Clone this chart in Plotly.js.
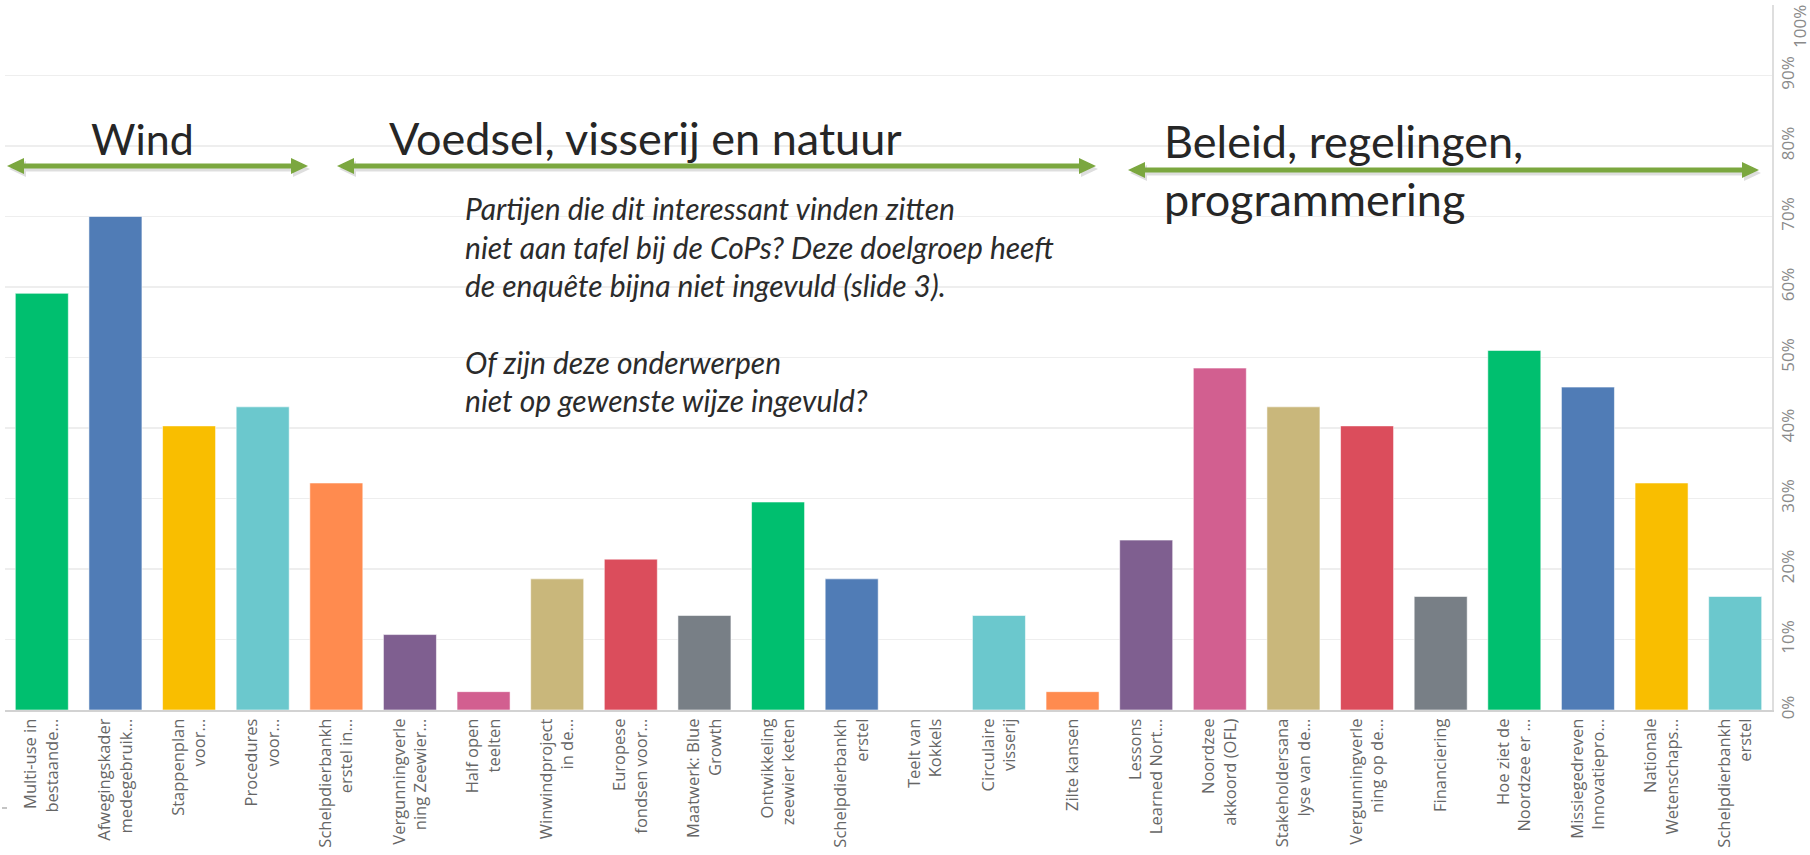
<!DOCTYPE html>
<html>
<head>
<meta charset="utf-8">
<script src="https://cdn.plot.ly/plotly-3.0.1.min.js"></script>
<style>html,body{margin:0;padding:0;background:#fff;}#chart{width:1810px;height:855px;}</style>
</head>
<body>
<div id="chart"></div>
<script>
// ---- data ----
const categories = [
  "Multi-use in<br>bestaande...",
  "Afwegingskader<br>medegebruik...",
  "Stappenplan<br>voor...",
  "Procedures<br>voor...",
  "Schelpdierbankh<br>erstel in...",
  "Vergunningverle<br>ning Zeewier...",
  "Half open<br>teelten",
  "Winwindproject<br>in de...",
  "Europese<br>fondsen voor...",
  "Maatwerk: Blue<br>Growth",
  "Ontwikkeling<br>zeewier keten",
  "Schelpdierbankh<br>erstel",
  "Teelt van<br>Kokkels",
  "Circulaire<br>visserij",
  "Zilte kansen",
  "Lessons<br>Learned Nort...",
  "Noordzee<br>akkoord (OFL)",
  "Stakeholdersana<br>lyse van de...",
  "Vergunningverle<br>ning op de...",
  "Financiering",
  "Hoe ziet de<br>Noordzee er ...",
  "Missiegedreven<br>Innovatiepro...",
  "Nationale<br>Wetenschaps...",
  "Schelpdierbankh<br>erstel"
];
const percentages = [59.1, 70.0, 40.3, 43.0, 32.2, 10.7, 2.6, 18.6, 21.4, 13.4, 29.5, 18.6,
                     0, 13.4, 2.6, 24.1, 48.5, 43.0, 40.3, 16.1, 51.0, 45.8, 32.2, 16.1];
const barColors = ["#00BF6F","#507CB6","#F9BE00","#6BC8CD","#FF8B4F","#7F5F90","#D25F90","#C9B77B","#DB4D5C","#787F86",
                   "#00BF6F","#507CB6","#F9BE00","#6BC8CD","#FF8B4F","#7F5F90","#D25F90","#C9B77B","#DB4D5C","#787F86",
                   "#00BF6F","#507CB6","#F9BE00","#6BC8CD"];
const yTickVals = [0, 10, 20, 30, 40, 50, 60, 70, 80, 90, 100];
const yTickText = ["0%", "10%", "20%", "30%", "40%", "50%", "60%", "70%", "80%", "90%", "100%"];

const groupTitles = ["Wind", "Voedsel, visserij en natuur", "Beleid, regelingen,", "programmering"];
const noteLines = [
  "Partijen die dit interessant vinden zitten",
  "niet aan tafel bij de CoPs? Deze doelgroep heeft",
  "de enquête bijna niet ingevuld (slide 3).",
  "Of zijn deze onderwerpen",
  "niet op gewenste wijze ingevuld?"
];

// ---- geometry helpers (page pixels -> paper) ----
const W = 1810, H = 855;
const L = 5, R = 1772, T = 5, B = 710;
const px = v => (v - L) / (R - L);
const py = v => (B - v) / (B - T);

const xIdx = categories.map((_, i) => i);

const trace = {
  type: "bar",
  x: xIdx,
  y: percentages,
  marker: { color: barColors, line: { color: "rgba(255,255,255,0.55)", width: 1 } },
  hoverinfo: "skip"
};

// double-headed arrows
function arrowPath(x0, x1, y, head, hh, sw) {
  const pts = [
    [x0, y], [x0 + head, y - hh], [x0 + head, y - sw / 2], [x1 - head, y - sw / 2],
    [x1 - head, y - hh], [x1, y], [x1 - head, y + hh], [x1 - head, y + sw / 2],
    [x0 + head, y + sw / 2], [x0 + head, y + hh]
  ];
  return "M" + pts.map(p => px(p[0]).toFixed(5) + "," + py(p[1]).toFixed(5)).join(" L") + " Z";
}
const arrows = [[7, 308, 166], [337, 1096, 166], [1128, 1759, 170]];
const shapes = [];
arrows.forEach(a => {
  shapes.push({ type: "path", xref: "paper", yref: "paper", path: arrowPath(a[0] + 2, a[1] + 2, a[2] + 3, 17, 8, 5),
                fillcolor: "rgba(0,0,0,0.13)", line: { width: 0 }, layer: "above" });
  shapes.push({ type: "path", xref: "paper", yref: "paper", path: arrowPath(a[0], a[1], a[2], 17, 8, 5),
                fillcolor: "#7BA73F", line: { width: 0 }, layer: "above" });
});
// tiny mark at lower left
shapes.push({ type: "line", xref: "paper", yref: "paper", x0: px(2), x1: px(7), y0: py(808), y1: py(808),
              line: { color: "#b0b0b0", width: 1.5 } });

const annotations = [];
const titleSizes = [43, 45, 45, 45];
const titlePos = [[89, 138], [387, 138], [1162, 141], [1162, 199]];
groupTitles.forEach((t, i) => {
  annotations.push({ xref: "paper", yref: "paper", x: px(titlePos[i][0]), y: py(titlePos[i][1]),
    xanchor: "left", yanchor: "middle", text: t, showarrow: false,
    font: { family: "Lato, 'Open Sans', sans-serif", size: titleSizes[i], color: "#262626" } });
});
const noteY = [208, 247, 285, 362, 400];
noteLines.forEach((t, i) => {
  annotations.push({ xref: "paper", yref: "paper", x: px(463), y: py(noteY[i]),
    xanchor: "left", yanchor: "middle", text: "<i>" + t + "</i>", showarrow: false,
    font: { family: "Lato, 'Open Sans', sans-serif", size: 30, color: "#2b2b2b" } });
});
// top tick label placed inside the page
annotations.push({ xref: "paper", yref: "paper", x: px(1799), y: py(27), xanchor: "center", yanchor: "middle",
  text: yTickText[yTickText.length - 1], textangle: -90, showarrow: false,
  font: { family: "'Open Sans', sans-serif", size: 17, color: "#8a8a8a" } });

const layout = {
  width: W, height: H,
  margin: { l: L, r: W - R, t: T, b: H - B, pad: 0 },
  paper_bgcolor: "#ffffff", plot_bgcolor: "#ffffff",
  showlegend: false,
  bargap: 0.28,
  xaxis: {
    range: [-0.5, categories.length - 0.5],
    tickvals: xIdx, ticktext: categories, tickangle: -90,
    showgrid: false, zeroline: false, ticks: "",
    showline: true, linecolor: "#d2d2d2", linewidth: 2,
    tickfont: { family: "'Open Sans', sans-serif", size: 16.5, color: "#666666" },
    ticklabelstandoff: 0,
    fixedrange: true
  },
  yaxis: {
    side: "right", range: [0, 100],
    tickvals: yTickVals, ticktext: yTickText.map((t, i) => i === yTickText.length - 1 ? "" : t),
    tickangle: -90, ticks: "",
    showgrid: true, gridcolor: "#eeeeee", gridwidth: 1.5,
    zeroline: false, showline: true, linecolor: "#dedede", linewidth: 1.5,
    tickfont: { family: "'Open Sans', sans-serif", size: 17, color: "#8a8a8a" },
    fixedrange: true
  },
  shapes: shapes,
  annotations: annotations
};

Plotly.newPlot("chart", [trace], layout, { displayModeBar: false, staticPlot: true });
</script>
</body>
</html>
